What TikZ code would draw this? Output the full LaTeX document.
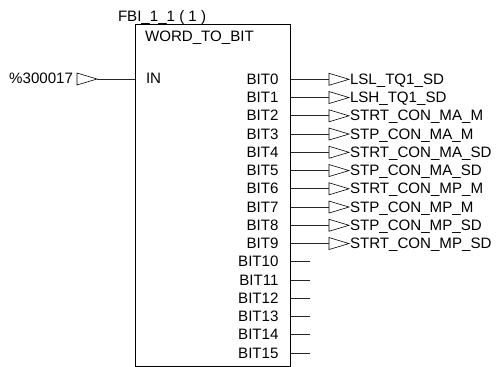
\documentclass[tikz,border=0pt]{standalone}
\usepackage{fontspec}
\setmainfont{Liberation Sans}
\usetikzlibrary{shapes.geometric}
\tikzset{
  x=1pt,y=-1pt,
  txt/.style={inner sep=0pt,outer sep=0pt,font=\fontsize{15.1}{17}\selectfont,text height=10.9pt,text depth=0pt},
  tri/.style={draw,line width=0.6pt,isosceles triangle,isosceles triangle stretches,shape border rotate=0,minimum width=12pt,minimum height=20pt,inner sep=0pt,outer sep=0pt,anchor=lower side},
  wire/.style={line width=0.8pt,black!85},
  block/.style={draw,line width=0.9pt,rectangle,minimum width=155.5pt,minimum height=341.5pt,inner sep=0pt,outer sep=0pt}
}
\begin{document}
\begin{tikzpicture}
\useasboundingbox (0,0) rectangle (496,367);
\node[block] (box) at (212.9,195.2) {};
\node[txt,anchor=south west] (inst) at (118,21) {FBI\_1\_1 ( 1 )};
\node[txt,anchor=west] (name) at (145,36.5) {WORD\_TO\_BIT};
\node[txt,anchor=west] (in) at (146,78) {IN};
\node[txt,anchor=east] (src) at (73,78) {\%300017};
\node[tri] (srct) at (77,79) {};
\coordinate (inpin) at (135,79);
\draw[wire] (srct.apex) -- (inpin);
\foreach \n/\lab [count=\i from 0] in {0/LSL\_TQ1\_SD,1/LSH\_TQ1\_SD,2/STRT\_CON\_MA\_M,3/STP\_CON\_MA\_M,4/STRT\_CON\_MA\_SD,5/STP\_CON\_MA\_SD,6/STRT\_CON\_MP\_M,7/STP\_CON\_MP\_M,8/STP\_CON\_MP\_SD,9/STRT\_CON\_MP\_SD}{
  \pgfmathsetmacro{\yy}{79.3+18.25*\i}
  \node[txt,anchor=east] (b\n) at (278.5,\yy-0.5) {BIT\n};
  \coordinate (p\n) at (291,\yy);
  \node[tri] (t\n) at (329,\yy) {};
  \node[txt,anchor=west] (l\n) at (350,\yy-0.5) {\lab};
  \draw[wire] (p\n) -- (t\n.lower side);
}
\foreach \n [count=\i from 10] in {10,11,12,13,14,15}{
  \pgfmathsetmacro{\yy}{79.3+18.25*\i}
  \node[txt,anchor=east] (b\n) at (278.5,\yy-0.5) {BIT\n};
  \coordinate (p\n) at (291,\yy);
  \coordinate (e\n) at (310,\yy);
  \draw[wire] (p\n) -- (e\n);
}
\end{tikzpicture}
\end{document}
